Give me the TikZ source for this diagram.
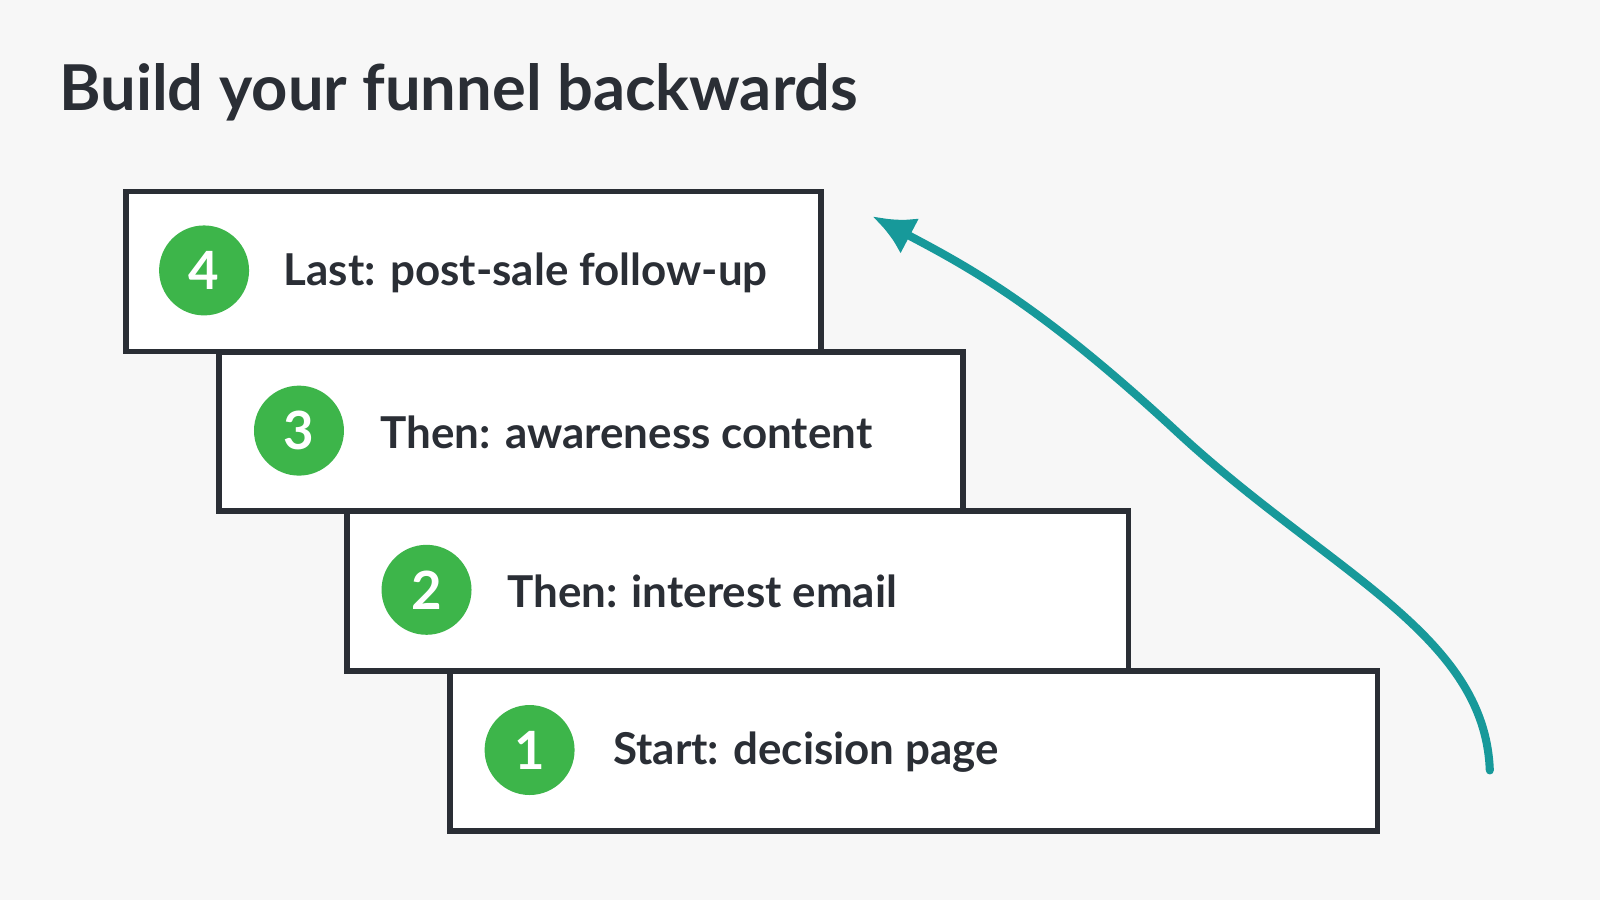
\documentclass[tikz,border=0pt]{standalone}
\usepackage{fontspec}
\setmainfont{Lato}
\usetikzlibrary{arrows.meta}
\definecolor{ink}{HTML}{2A2E35}
\definecolor{stepgreen}{HTML}{3DB54A}
\definecolor{arrowteal}{HTML}{17999A}
\begin{document}
\begin{tikzpicture}[x=0.010204cm, y=-0.010204cm,
    stepbox/.style={draw=ink, line width=1.6pt, fill=white, inner sep=0pt, anchor=north west},
    badge/.style={circle, fill=stepgreen, minimum size=0.9cm, inner sep=0pt, text=white, font=\bfseries\fontsize{15}{17}\selectfont},
    steptext/.style={anchor=west, text=ink, font=\bfseries\fontsize{12.5}{14}\selectfont}]
        \fill[white!97!black] (0,0) rectangle (1568,882);
        % Title
        \node[anchor=west, text=ink, font=\bfseries\fontsize{18}{22}\selectfont] (title) at (46,90) {Build your funnel backwards};

        % Steps
        \node[stepbox, minimum width=6.95cm, minimum height=1.6cm] (s4) at (121,185) {};
        \node[stepbox, minimum width=7.44cm, minimum height=1.59cm] (s3) at (212,342) {};
        \node[stepbox, minimum width=7.82cm, minimum height=1.6cm] (s2) at (337,498) {};
        \node[stepbox, minimum width=9.28cm, minimum height=1.6cm] (s1) at (438,655) {};

        \node[badge] (b4) at (200,265) {4};
        \node[badge] (b3) at (293,422) {3};
        \node[badge] (b2) at (418,578) {2};
        \node[badge] (b1) at (519,735) {1};

        \node[steptext] (t4) at (266,267) {Last: post-sale follow-up};
        \node[steptext] (t3) at (361,424) {Then: awareness content};
        \node[steptext] (t2) at (485,580) {Then: interest email};
        \node[steptext] (t1) at (589,737) {Start: decision page};

        % Arrow
        \coordinate (from) at (1460,755);
        \coordinate (to) at (855,212);
        \draw[arrowteal, line width=2.3pt, line cap=round, -{Latex[length=0.42cm, width=0.4cm]}]
            (from) .. controls (1455,620) and (1300,560) .. (1150,420)
            .. controls (1020,300) and (950,262) .. (to);
\end{tikzpicture}
\end{document}
